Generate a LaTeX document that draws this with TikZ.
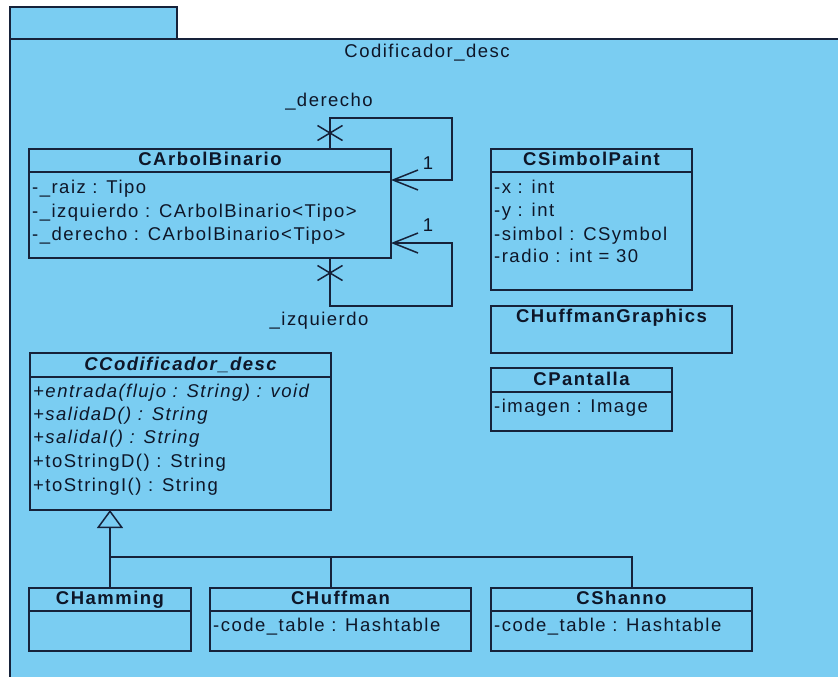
\documentclass[tikz,border=0pt]{standalone}
\usepackage{fontspec}
\setmainfont{Liberation Sans}[LetterSpace=8]
\usetikzlibrary{arrows.meta,calc}

\definecolor{pkgfill}{RGB}{122,205,242}
\definecolor{umlline}{RGB}{22,34,58}
\definecolor{umltext}{RGB}{14,22,40}

\begin{document}
\begin{tikzpicture}[x=1pt,y=-1pt,
  every node/.style={text=umltext, font=\fontsize{18.5}{21}\selectfont},
  classbox/.style={draw=umlline, line width=1.5pt, fill=pkgfill, inner sep=0pt, outer sep=0pt, anchor=north west},
  member/.style={anchor=west, inner sep=0pt, text height=13.5pt, text depth=4pt},
  optext/.style={member, font=\fontsize{18.5}{21}\selectfont\itshape},
  ctitle/.style={inner sep=0pt, text height=13.5pt, text depth=4pt, font=\fontsize{18.5}{21}\selectfont\bfseries},
  atitle/.style={ctitle, font=\fontsize{18.5}{21}\selectfont\bfseries\itshape},
  plain/.style={inner sep=0pt, text height=13.5pt, text depth=4pt},
  sepline/.style={draw=umlline, line width=1.5pt},
  link/.style={draw=umlline, line width=1.5pt},
  assoc/.style={link, -{Straight Barb[length=25pt,width=20pt]}},
  gen/.style={link, -{Triangle[open,length=18pt,width=26pt]}},
  pkgshape/.style={draw=umlline, line width=1.5pt, fill=pkgfill}
]
\useasboundingbox (0,0) rectangle (838,677);
\clip (0,0) rectangle (838,677);
\fill[white] (0,0) rectangle (838,677);

% package frame with its tab
\draw[pkgshape] (10,39) rectangle (860,700);
\draw[pkgshape] (10,7) rectangle (177,39);
\node[plain] (pkglabel) at (427,53) {Codificador\_desc};

% ---- CArbolBinario ----
\node[classbox, minimum width=362pt, minimum height=109pt] (arbol) at (29,149) {};
\draw[sepline] ($(arbol.north west)+(0,23)$) -- ($(arbol.north east)+(0,23)$);
\node[ctitle] (arbolT) at ($(arbol.north)+(0,12)$) {CArbolBinario};
\node[member] (arbolA1) at ($(arbol.north west)+(3,40)$) {-\_raiz : Tipo};
\node[member] (arbolA2) at ($(arbol.north west)+(3,64)$) {-\_izquierdo : CArbolBinario<Tipo>};
\node[member] (arbolA3) at ($(arbol.north west)+(3,87)$) {-\_derecho : CArbolBinario<Tipo>};

% ---- CSimbolPaint ----
\node[classbox, minimum width=201pt, minimum height=141pt] (simbol) at (491,149) {};
\draw[sepline] ($(simbol.north west)+(0,23)$) -- ($(simbol.north east)+(0,23)$);
\node[ctitle] (simbolT) at ($(simbol.north)+(0,12)$) {CSimbolPaint};
\node[member] (simbolA1) at ($(simbol.north west)+(3,40)$) {-x : int};
\node[member] (simbolA2) at ($(simbol.north west)+(3,63)$) {-y : int};
\node[member] (simbolA3) at ($(simbol.north west)+(3,87)$) {-simbol : CSymbol};
\node[member] (simbolA4) at ($(simbol.north west)+(3,109)$) {-radio : int = 30};

% ---- CHuffmanGraphics ----
\node[classbox, minimum width=241pt, minimum height=47pt] (graphics) at (491,306) {};
\node[ctitle] (graphicsT) at ($(graphics.north)+(0,12)$) {CHuffmanGraphics};

% ---- CPantalla ----
\node[classbox, minimum width=181pt, minimum height=63pt] (pantalla) at (491,368) {};
\draw[sepline] ($(pantalla.north west)+(0,24)$) -- ($(pantalla.north east)+(0,24)$);
\node[ctitle] (pantallaT) at ($(pantalla.north)+(0,13)$) {CPantalla};
\node[member] (pantallaA1) at ($(pantalla.north west)+(3,40)$) {-imagen : Image};

% ---- CCodificador_desc (abstract) ----
\node[classbox, minimum width=301pt, minimum height=157pt] (codif) at (30,353) {};
\draw[sepline] ($(codif.north west)+(0,24)$) -- ($(codif.north east)+(0,24)$);
\node[atitle] (codifT) at ($(codif.north)+(0,13)$) {CCodificador\_desc};
\node[optext] (codifM1) at ($(codif.north west)+(3,40)$) {+entrada(flujo : String) : void};
\node[optext] (codifM2) at ($(codif.north west)+(3,63)$) {+salidaD() : String};
\node[optext] (codifM3) at ($(codif.north west)+(3,86)$) {+salidaI() : String};
\node[member] (codifM4) at ($(codif.north west)+(3,110)$) {+toStringD() : String};
\node[member] (codifM5) at ($(codif.north west)+(3,134)$) {+toStringI() : String};

% ---- subclasses ----
\node[classbox, minimum width=162pt, minimum height=63pt] (hamming) at (29,588) {};
\draw[sepline] ($(hamming.north west)+(0,23)$) -- ($(hamming.north east)+(0,23)$);
\node[ctitle] (hammingT) at ($(hamming.north)+(0,12)$) {CHamming};

\node[classbox, minimum width=261pt, minimum height=63pt] (huffman) at (210,588) {};
\draw[sepline] ($(huffman.north west)+(0,23)$) -- ($(huffman.north east)+(0,23)$);
\node[ctitle] (huffmanT) at ($(huffman.north)+(0,12)$) {CHuffman};
\node[member] (huffmanA1) at ($(huffman.north west)+(3,39)$) {-code\_table : Hashtable};

\node[classbox, minimum width=261pt, minimum height=63pt] (shanno) at (491,588) {};
\draw[sepline] ($(shanno.north west)+(0,23)$) -- ($(shanno.north east)+(0,23)$);
\node[ctitle] (shannoT) at ($(shanno.north)+(0,12)$) {CShanno};
\node[member] (shannoA1) at ($(shanno.north west)+(3,39)$) {-code\_table : Hashtable};

% ---- self associations of CArbolBinario ----
\coordinate (derS) at ($(arbol.north west)+(301,0)$);
\coordinate (derC) at (452,118);
\coordinate (derE) at ($(arbol.north east)+(0,31)$);
\draw[assoc] (derS) |- (derC) |- (derE);
\coordinate (derX) at ($(derS)+(0,-16)$);
\draw[link] ($(derX)+(-12.5,-7.5)$) -- ($(derX)+(12.5,7.5)$);
\draw[link] ($(derX)+(-12.5,7.5)$) -- ($(derX)+(12.5,-7.5)$);
\node[plain] (derRole) at (329,102) {\_derecho};
\node[plain] (derMult) at (428,165) {1};

\coordinate (izqS) at ($(arbol.south west)+(301,0)$);
\coordinate (izqC) at (452,306);
\coordinate (izqE) at ($(arbol.north east)+(0,94)$);
\draw[assoc] (izqS) |- (izqC) |- (izqE);
\coordinate (izqX) at ($(izqS)+(0,15)$);
\draw[link] ($(izqX)+(-12.5,-7.5)$) -- ($(izqX)+(12.5,7.5)$);
\draw[link] ($(izqX)+(-12.5,7.5)$) -- ($(izqX)+(12.5,-7.5)$);
\node[plain] (izqRole) at (319,321) {\_izquierdo};
\node[plain] (izqMult) at (428,227) {1};

% ---- generalization ----
\coordinate (hub) at (110,557);
\coordinate (hufTop) at ($(huffman.north west)+(121,0)$);
\coordinate (shaTop) at ($(shanno.north west)+(141,0)$);
\draw[link] (hamming.north) -- (hub);
\draw[link] (hufTop) |- (hub);
\draw[link] (shaTop) |- (hub);
\draw[gen] (hub) -- (codif.south -| hub);
\end{tikzpicture}
\end{document}
